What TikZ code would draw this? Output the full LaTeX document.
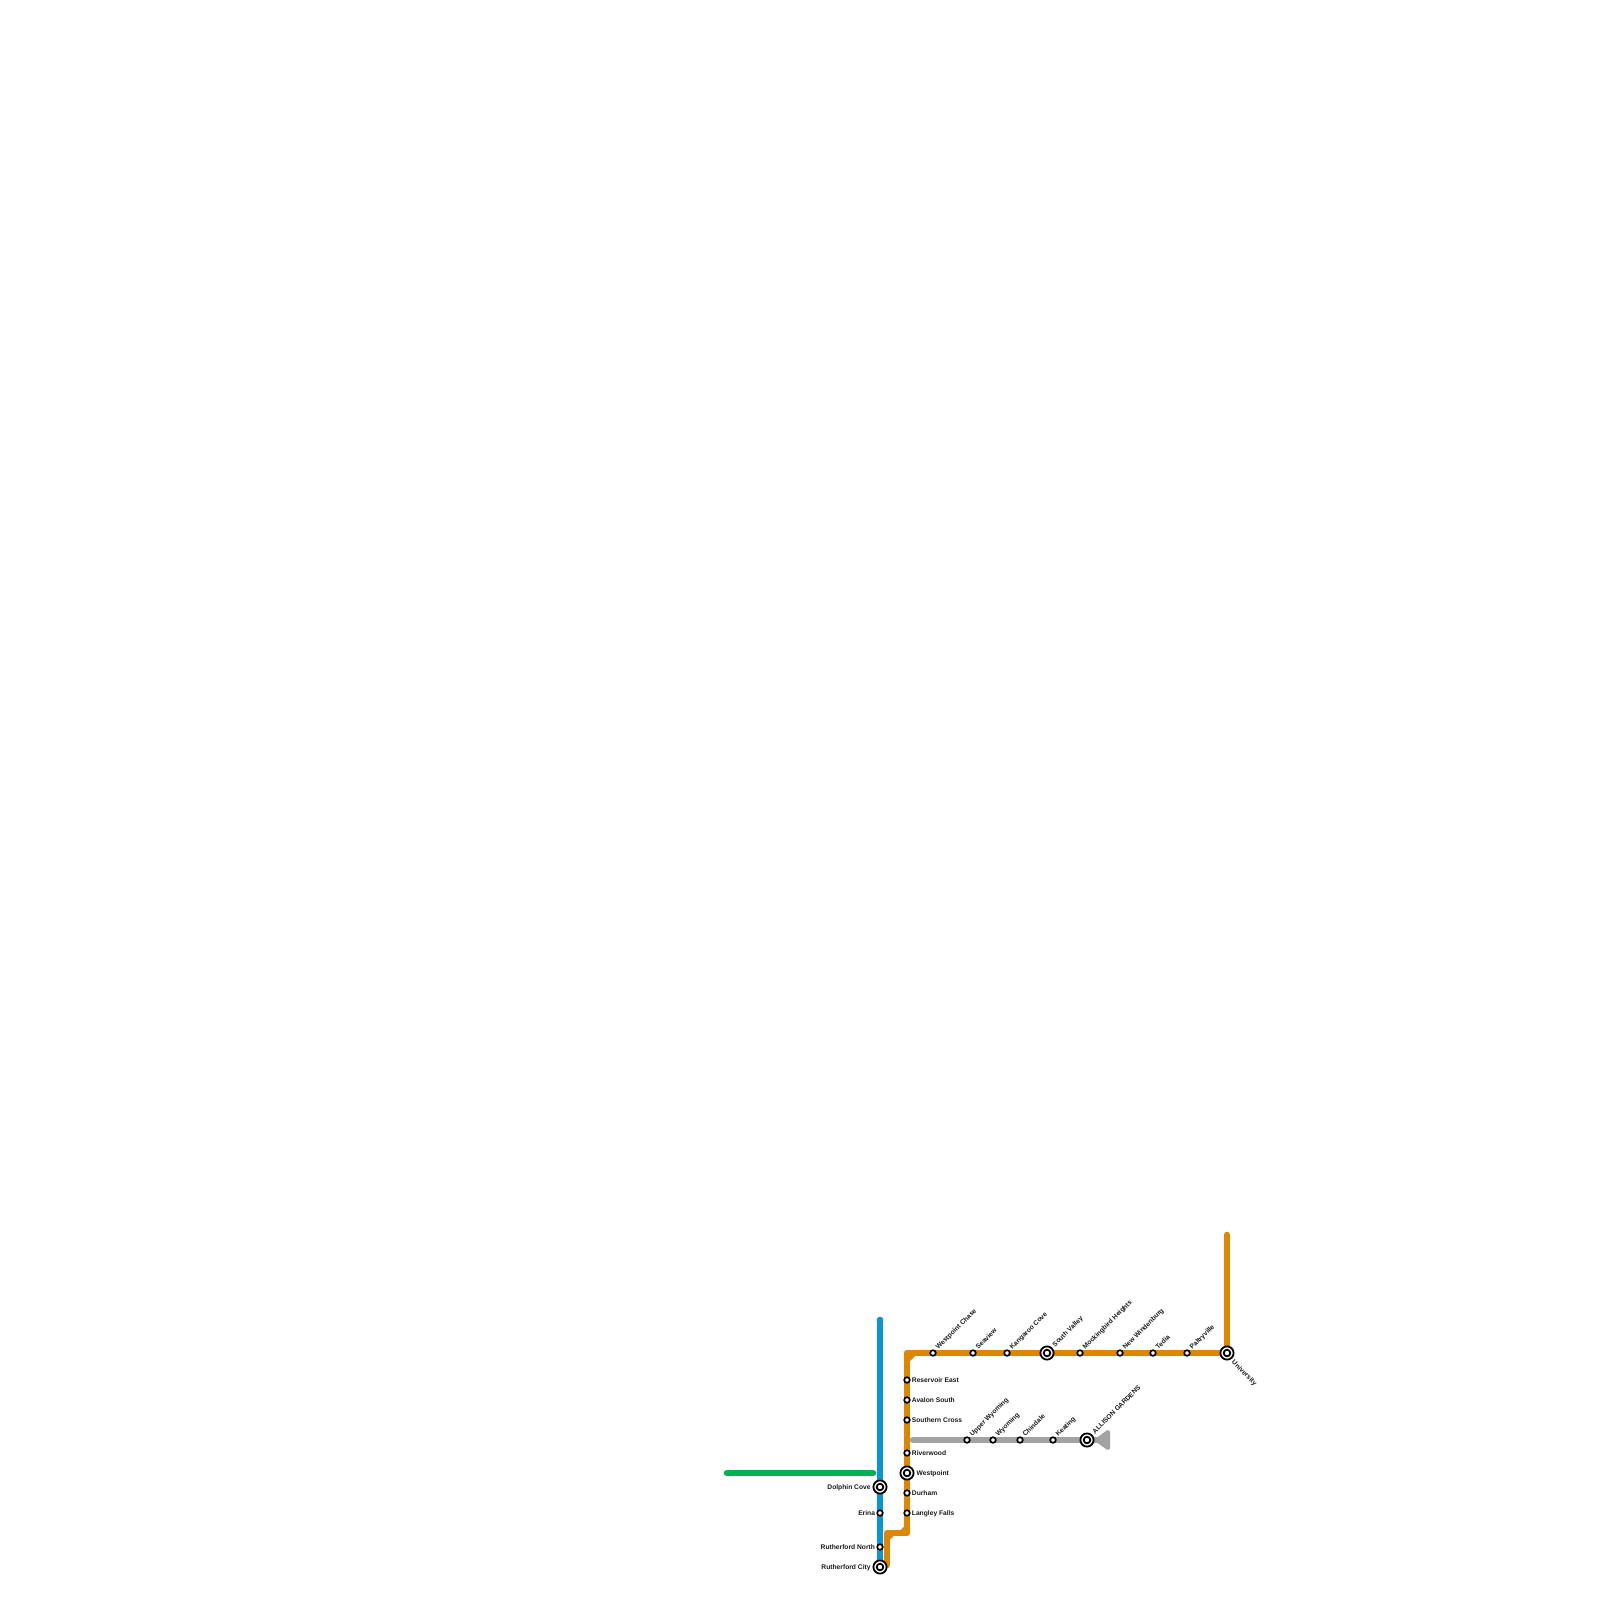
\documentclass[tikz,border=0pt]{standalone}
\usepackage{fontspec}
\setmainfont{Liberation Sans}
\usetikzlibrary{backgrounds}
\definecolor{LineOrange}{RGB}{223,134,0}
\definecolor{LineBlue}{RGB}{8,150,215}
\definecolor{LineGreen}{RGB}{0,178,81}
\definecolor{LineGray}{RGB}{162,162,162}
\tikzset{
  metro/.style={line width=6.7pt,line cap=round,line join=round},
  stn/.style={circle,draw=black,fill=white,line width=1.7pt,minimum size=5.6pt,inner sep=0pt,outer sep=0pt},
  bigstn/.style={circle,draw=black,fill=white,line width=1.8pt,minimum size=13.2pt,inner sep=0pt,outer sep=0pt,
    path picture={\draw[black,line width=1.8pt] (path picture bounding box.center) circle (3.3pt);}},
  txt/.style={font=\fontsize{6.7}{7}\selectfont\bfseries,inner sep=0pt,text=black!90,text height=5pt,text depth=0.8pt},
  lblr/.style={label={[txt,anchor=west,label distance=1.9pt]0:#1}},
  lbll/.style={label={[txt,anchor=east,label distance=2pt]180:#1}},
  lbllbig/.style={label={[txt,anchor=east,label distance=2.6pt]180:#1}},
  lblup/.style={label={[txt,rotate=45,anchor=west,label distance=2.6pt,xshift=1.3pt,yshift=-1.3pt]45:#1}},
  lbldn/.style={label={[txt,rotate=-45,anchor=west,label distance=2.5pt,xshift=1.5pt]-45:#1}},
}
\begin{document}
\begin{tikzpicture}[x=1pt,y=-1pt]
\useasboundingbox (0,0) rectangle (1600,1600);
% line ends and bends
\coordinate (greenwest) at (727,1473);
\coordinate (greeneast) at (873,1473);
\coordinate (bluetop) at (880,1320);
\coordinate (orangetop) at (1227,1235);
\coordinate (bendnw) at (907,1353);
\coordinate (bendse) at (907,1533);
\coordinate (bendsw) at (887,1533);
\coordinate (orangeend) at (887,1565);
\coordinate (graywest) at (913,1440);
\coordinate (grayeast) at (1105,1440);
% blue line
\node[bigstn,lbllbig=Dolphin Cove] (dolphincove) at (880,1487) {};
\node[stn,lbll=Erina] (erina) at (880,1513) {};
\node[stn,lbll=Rutherford North] (rutherfordnorth) at (880,1547) {};
\node[bigstn,lbllbig=Rutherford City] (rutherfordcity) at (880,1567) {};
% orange line
\node[stn,lblup=Westpoint Chase] (westpointchase) at (933,1353) {};
\node[stn,lblup=Seaview] (seaview) at (973,1353) {};
\node[stn,lblup=Kangaroo Cove] (kangaroocove) at (1007,1353) {};
\node[bigstn,lblup=South Valley] (southvalley) at (1047,1353) {};
\node[stn,lblup=Mockingbird Heights] (mockingbird) at (1080,1353) {};
\node[stn,lblup=New Windenburg] (newwindenburg) at (1120,1353) {};
\node[stn,lblup=Tedia] (tedia) at (1153,1353) {};
\node[stn,lblup=Paltryville] (paltryville) at (1187,1353) {};
\node[bigstn,lbldn=University] (university) at (1227,1353) {};
\node[stn,lblr=Reservoir East] (reservoireast) at (907,1380) {};
\node[stn,lblr=Avalon South] (avalonsouth) at (907,1400) {};
\node[stn,lblr=Southern Cross] (southerncross) at (907,1420) {};
\node[stn,lblr=Riverwood] (riverwood) at (907,1453) {};
\node[bigstn,label={[txt,anchor=west,label distance=2.8pt]0:Westpoint}] (westpoint) at (907,1473) {};
\node[stn,lblr=Durham] (durham) at (907,1493) {};
\node[stn,lblr=Langley Falls] (langleyfalls) at (907,1513) {};
% gray line
\node[stn,lblup=Upper Wyoming] (upperwyoming) at (967,1440) {};
\node[stn,lblup=Wyoming] (wyoming) at (993,1440) {};
\node[stn,lblup=Chindale] (chindale) at (1020,1440) {};
\node[stn,lblup=Keating] (keating) at (1053,1440) {};
\node[bigstn,lblup=ALLISON GARDENS] (allison) at (1087,1440) {};
\begin{scope}[on background layer]
\draw[metro,LineGreen] (greenwest) -- (greeneast);
\draw[metro,LineOrange] (orangetop) -- (university.center) -- (bendnw) -- (bendse) -- (bendsw) -- (orangeend);
\fill[LineOrange] (910,1356) -- (915,1356) -- (910,1361) -- cycle;
\fill[LineOrange] (904,1530) -- (904,1526.5) -- (900.5,1530) -- cycle;
\fill[LineOrange] (890,1536) -- (893.5,1536) -- (890,1539.5) -- cycle;
\draw[metro,LineBlue,line cap=butt] (bluetop) -- (rutherfordcity.center);
\fill[LineBlue] (bluetop) circle (3.35pt);
\draw[metro,LineGray] (graywest) -- (grayeast);
\fill[LineGray,draw=LineGray,line width=4pt,line join=round] (1108,1432) -- (1108,1448) -- (1097,1440) -- cycle;
\end{scope}
\end{tikzpicture}
\end{document}
